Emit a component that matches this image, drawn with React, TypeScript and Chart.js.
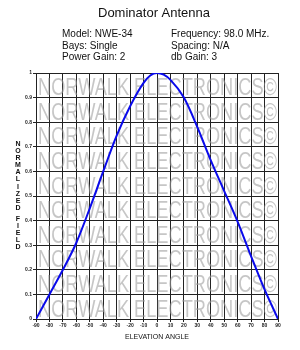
import React, { useEffect, useRef } from "react";
import { Chart, registerables } from "chart.js";

Chart.register(...registerables);

const title = "Dominator Antenna";
const infoLeft = ["Model: NWE-34", "Bays: Single", "Power Gain: 2"];
const infoRight = ["Frequency: 98.0 MHz.", "Spacing: N/A", "db Gain: 3"];
const yTitleTop = "NORMALIZED";
const yTitleBottom = "FIELD";
const xTitle = "ELEVATION ANGLE";
const watermark = "NORWALK ELECTRONICS©";

const angles = [-90, -80, -70, -60, -50, -40, -30, -20, -10, -5, 0, 5, 10, 20, 30, 40, 50, 60, 70, 80, 90];
const field = [0, 0.1, 0.2, 0.31, 0.45, 0.6, 0.745, 0.865, 0.96, 0.99, 1.0, 0.993, 0.972, 0.9, 0.78, 0.645, 0.52, 0.395, 0.255, 0.12, 0];

const FONT = "Arial, 'Liberation Sans', sans-serif";

const decorPlugin = {
  id: "decor",
  beforeDatasetsDraw(chart: any) {
    const { ctx, chartArea } = chart;
    const { left, right, top, bottom } = chartArea;
    const rows = 10;
    const rh = (bottom - top) / rows;
    ctx.save();
    ctx.beginPath();
    ctx.rect(left, top, right - left, bottom - top);
    ctx.clip();
    ctx.fillStyle = "rgba(160,160,160,0.6)";
    ctx.font = `24px ${FONT}`;
    ctx.textAlign = "left";
    ctx.textBaseline = "alphabetic";
    for (let i = 0; i < rows; i++) {
      const yb = top + rh * (i + 1) - 2.5;
      ctx.fillText(watermark, left + 2, yb, right - left - 3);
    }
    ctx.restore();
  },
  afterDraw(chart: any) {
    const { ctx, chartArea } = chart;
    ctx.save();
    ctx.fillStyle = "#111";
    ctx.textAlign = "center";
    ctx.textBaseline = "alphabetic";
    ctx.font = `13px ${FONT}`;
    ctx.fillText(title, 154, 16.5);
    ctx.textAlign = "left";
    ctx.font = `10px ${FONT}`;
    const baselines = [36.5, 48.5, 60];
    infoLeft.forEach((t, i) => ctx.fillText(t, 62, baselines[i]));
    infoRight.forEach((t, i) => ctx.fillText(t, 171, baselines[i]));
    // x title
    ctx.textAlign = "center";
    ctx.font = `7px ${FONT}`;
    ctx.fillText(xTitle, (chartArea.left + chartArea.right) / 2, 339);
    // y title stacked letters
    ctx.font = `bold 7px ${FONT}`;
    ctx.textBaseline = "middle";
    let y = 144;
    for (const ch of yTitleTop) {
      ctx.fillText(ch, 18, y);
      y += 7.1;
    }
    y += 4;
    for (const ch of yTitleBottom) {
      ctx.fillText(ch, 18, y);
      y += 7.1;
    }
    ctx.restore();
  },
};

export default function App() {
  const ref = useRef<HTMLCanvasElement | null>(null);
  useEffect(() => {
    if (!ref.current) return;
    const chart = new Chart(ref.current, {
      type: "line",
      data: {
        datasets: [
          {
            data: angles.map((a, i) => ({ x: a, y: field[i] })),
            borderColor: "#0a0aeb",
            borderWidth: 2,
            pointRadius: 0,
            cubicInterpolationMode: "monotone",
            fill: false,
          },
        ],
      },
      options: {
        animation: false,
        responsive: false,
        maintainAspectRatio: false,
        layout: { padding: { top: 73, right: 22, left: 0, bottom: 0 } },
        plugins: { legend: { display: false }, tooltip: { enabled: false }, title: { display: false } },
        scales: {
          x: {
            type: "linear",
            min: -90,
            max: 90,
            afterFit: (s: any) => {
              s.height = 31;
            },
            ticks: {
              stepSize: 10,
              font: { size: 5, family: FONT, weight: "bold" },
              color: "#222",
              padding: 1,
              maxRotation: 0,
              autoSkip: false,
            },
            grid: { color: "#222", lineWidth: 1, tickLength: 3, drawOnChartArea: true },
            border: { color: "#222", width: 1 },
          },
          y: {
            min: 0,
            max: 1,
            afterFit: (s: any) => {
              s.width = 36;
            },
            ticks: {
              stepSize: 0.1,
              font: { size: 5, family: FONT, weight: "bold" },
              color: "#222",
              padding: 1,
              callback: (v: any) => String(Number(Number(v).toFixed(1))),
            },
            grid: { color: "#222", lineWidth: 1, tickLength: 3 },
            border: { color: "#222", width: 1 },
          },
        },
      },
      plugins: [decorPlugin],
    });
    return () => chart.destroy();
  }, []);
  return (
    <div style={{ position: "absolute", left: 0, top: 0, width: 300, height: 350, background: "#fff" }}>
      <canvas ref={ref} width={300} height={350} style={{ display: "block" }} />
    </div>
  );
}
